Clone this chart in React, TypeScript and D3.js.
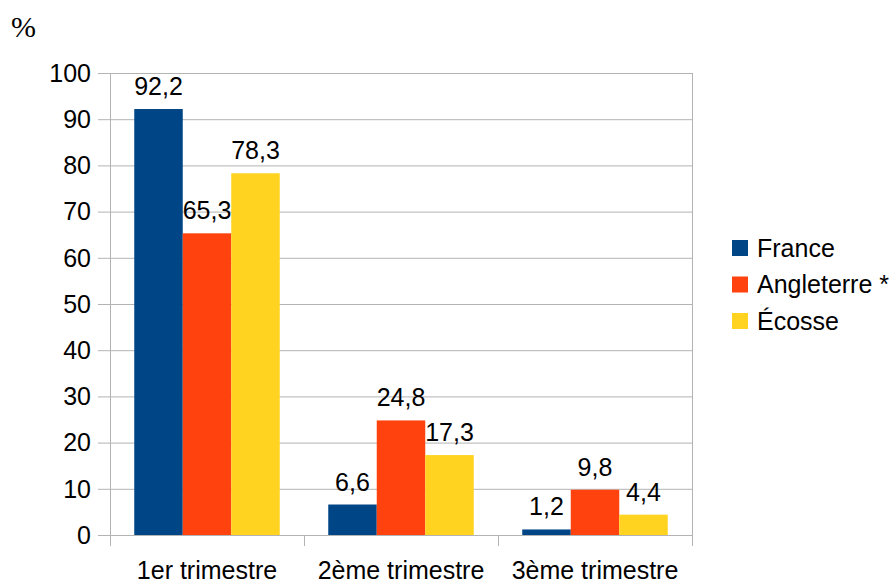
import React from "react";
import * as d3 from "d3";

const categories = ["1er trimestre", "2ème trimestre", "3ème trimestre"];
const seriesNames = ["France", "Angleterre *", "Écosse"];
const france = [92.2, 6.6, 1.2];
const angleterre = [65.3, 24.8, 9.8];
const ecosse = [78.3, 17.3, 4.4];
const yTicks = [0, 10, 20, 30, 40, 50, 60, 70, 80, 90, 100];
const colors = ["#004586", "#ff420e", "#ffd320"];

const W = 893;
const H = 583;
const font = "'Liberation Sans', Arial, sans-serif";
const FS = 25;

export default function App() {
  const seriesValues = [france, angleterre, ecosse];
  const left = 110, right = 692, top = 73, bottom = 535;
  const x0 = d3.scaleBand<string>().domain(categories).range([left, right]).padding(0);
  const bw = x0.bandwidth();
  const x1 = d3.scaleBand<string>().domain(seriesNames).range([bw * 0.125, bw * 0.875]).padding(0);
  const y = d3.scaleLinear().domain([0, 100]).range([bottom, top]);
  const fmt = (v: number) => v.toFixed(1).replace(".", ",");
  const boundaries = [...categories.map((c) => x0(c)!), right];

  return (
    <svg width={W} height={H} style={{ position: "absolute", left: 0, top: 0, background: "#fff" }}>
      <text x={11} y={37} fontFamily="'Liberation Serif', 'DejaVu Serif', serif" fontSize={30} fill="#000">%</text>
      {yTicks.map((t) => (
        <g key={t}>
          <line x1={98} x2={right} y1={y(t) + 0.5} y2={y(t) + 0.5} stroke="#b3b3b3" strokeWidth={1} />
          <text x={91} y={y(t)} dy="0.35em" textAnchor="end" fontFamily={font} fontSize={FS} fill="#000">{t}</text>
        </g>
      ))}
      {boundaries.map((bx, i) => (
        <line key={i} x1={bx + 0.5} x2={bx + 0.5} y1={i === 0 || i === boundaries.length - 1 ? top : bottom} y2={bottom + 11} stroke="#b3b3b3" strokeWidth={1} />
      ))}
      {categories.map((c, ci) => (
        <g key={c}>
          {seriesNames.map((s, si) => {
            const v = seriesValues[si][ci];
            const bx = x0(c)! + x1(s)!;
            return (
              <g key={s}>
                <rect x={bx} y={y(v)} width={x1.bandwidth()} height={y(0) - y(v)} fill={colors[si]} />
                <text x={bx + x1.bandwidth() / 2} y={y(v) - 14} textAnchor="middle" fontFamily={font} fontSize={FS} fill="#000">{fmt(v)}</text>
              </g>
            );
          })}
          <text x={x0(c)! + bw / 2} y={579} textAnchor="middle" fontFamily={font} fontSize={FS} fill="#000">{c}</text>
        </g>
      ))}
      {seriesNames.map((s, si) => {
        const cy = 248 + si * 36.5;
        return (
          <g key={s}>
            <rect x={732} y={cy - 8} width={16} height={16} fill={colors[si]} />
            <text x={757} y={cy} dy="0.35em" fontFamily={font} fontSize={FS} fill="#000">{s}</text>
          </g>
        );
      })}
    </svg>
  );
}
